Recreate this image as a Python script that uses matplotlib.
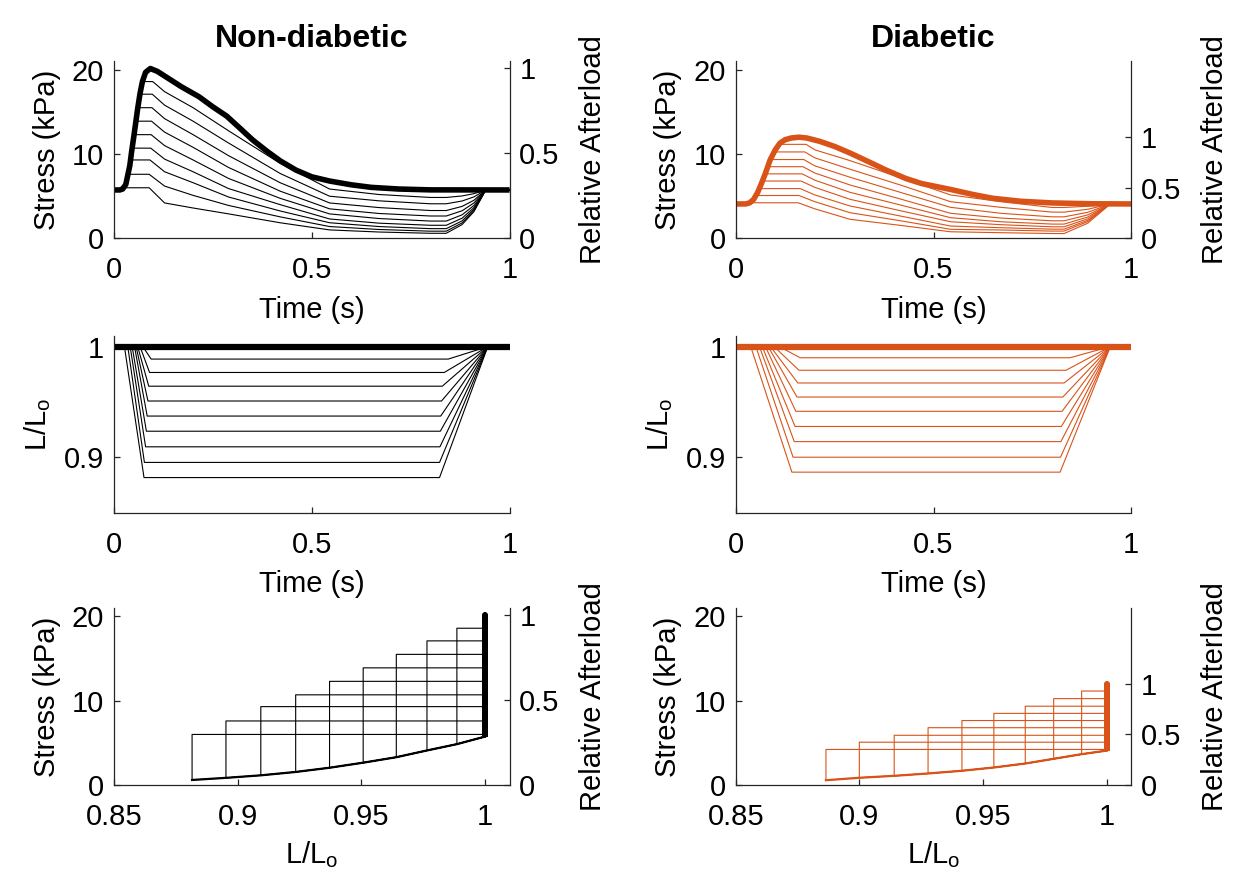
import numpy as np
import matplotlib.pyplot as plt

plt.rcParams['font.family'] = ['Liberation Sans', 'DejaVu Sans']
plt.rcParams['mathtext.fontset'] = 'custom'
plt.rcParams['mathtext.rm'] = 'Liberation Sans'
plt.rcParams['mathtext.it'] = 'Liberation Sans:italic'

ORANGE = '#D95319'
AX_COLOR = '#262626'
FS = 21

# isometric twitch (thick line), stress in kPa
nd_iso_t = [0, 0.015, 0.022, 0.03, 0.04, 0.045, 0.05, 0.055, 0.06, 0.066, 0.072, 0.08,
            0.092, 0.11, 0.13, 0.17, 0.215, 0.25, 0.285, 0.32, 0.35, 0.385, 0.42, 0.46,
            0.5, 0.545, 0.6, 0.65, 0.72, 0.8, 1.0]
nd_iso_stress = [5.74, 5.74, 5.85, 6.4, 8.6, 10.4, 12.0, 13.7, 15.4, 17.2, 18.6, 19.7,
                 20.15, 19.8, 19.2, 18.0, 16.8, 15.6, 14.5, 13.0, 11.7, 10.4, 9.2, 8.1,
                 7.3, 6.8, 6.35, 6.05, 5.85, 5.75, 5.74]
d_iso_t = [0, 0.025, 0.035, 0.045, 0.055, 0.065, 0.075, 0.087, 0.1, 0.112, 0.125, 0.14,
           0.16, 0.18, 0.213, 0.25, 0.29, 0.34, 0.38, 0.43, 0.47, 0.543, 0.6, 0.65,
           0.72, 0.8, 0.9, 1.0]
d_iso_stress = [4.08, 4.08, 4.2, 4.6, 5.4, 6.5, 7.7, 9.3, 10.5, 11.3, 11.7, 11.9,
                12.0, 11.9, 11.5, 10.9, 10.1, 9.0, 8.1, 7.1, 6.5, 5.8, 5.2, 4.75,
                4.4, 4.2, 4.1, 4.08]

# afterloaded contractions, highest afterload first
nd_level = [18.6, 17.1, 15.5, 13.9, 12.3, 10.7, 9.3, 7.6, 6.0]
nd_lmin = [0.9887, 0.9766, 0.9642, 0.9508, 0.9372, 0.9235, 0.9094, 0.8953, 0.8816]
nd_t_start = [0.073, 0.066, 0.060, 0.056, 0.052, 0.046, 0.041, 0.035, 0.0265]
nd_t_short_end = [0.094, 0.090, 0.088, 0.086, 0.084, 0.082, 0.080, 0.077, 0.076]
nd_t_plateau_end = [0.098, 0.097, 0.096, 0.095, 0.094, 0.093, 0.091, 0.089, 0.089]
nd_t_relen = [0.845, 0.835, 0.83, 0.828, 0.826, 0.825, 0.824, 0.823, 0.823]
nd_t_back = 0.945
nd_relax_t = [0.128, 0.2, 0.29, 0.42, 0.545, 0.67, 0.8, 0.84, 0.88, 0.91, 0.94]
nd_relax_stress = [
    [17.4, 15.5, 12.75, 8.9, 5.85, 5.2, 4.85, 4.85, 5.03, 5.3, 5.74],
    [15.8, 13.9, 11.3, 7.7, 5.0, 4.45, 4.1, 4.1, 4.43, 4.92, 5.74],
    [14.2, 12.3, 9.8, 6.6, 4.2, 3.65, 3.3, 3.3, 3.79, 4.52, 5.74],
    [12.6, 10.8, 8.4, 5.6, 3.5, 2.95, 2.65, 2.65, 3.27, 4.2, 5.74],
    [11.0, 9.3, 7.1, 4.75, 2.9, 2.35, 2.05, 2.05, 2.79, 3.9, 5.74],
    [9.4, 7.9, 5.9, 4.0, 2.3, 1.8, 1.55, 1.55, 2.39, 3.65, 5.74],
    [7.9, 6.6, 4.9, 3.25, 1.85, 1.4, 1.15, 1.15, 2.07, 3.45, 5.74],
    [6.2, 5.1, 3.9, 2.55, 1.4, 1.05, 0.85, 0.85, 1.83, 3.3, 5.74],
    [4.2, 3.6, 2.9, 1.85, 1.0, 0.75, 0.6, 0.6, 1.63, 3.17, 5.74],
]
nd_passive_l = [0.8816, 0.8953, 0.9094, 0.9235, 0.9372, 0.9508, 0.9642, 0.9766, 0.9887, 1.0]
nd_passive_stress = [0.6, 0.85, 1.15, 1.55, 2.05, 2.65, 3.3, 4.1, 4.85, 5.74]

d_level = [11.15, 10.25, 9.35, 8.5, 7.65, 6.8, 5.9, 5.08, 4.22]
d_lmin = [0.9899, 0.9786, 0.9671, 0.9544, 0.9415, 0.9278, 0.9141, 0.9, 0.8865]
d_t_start = [0.11, 0.097, 0.088, 0.082, 0.075, 0.067, 0.06, 0.051, 0.038]
d_t_short_end = [0.163, 0.16, 0.157, 0.155, 0.152, 0.15, 0.148, 0.145, 0.142]
d_t_plateau_end = [0.178, 0.175, 0.172, 0.17, 0.168, 0.165, 0.163, 0.16, 0.158]
d_t_relen = [0.845, 0.835, 0.83, 0.827, 0.825, 0.823, 0.822, 0.821, 0.82]
d_t_back = 0.947
d_relax_t = [0.2, 0.289, 0.416, 0.543, 0.67, 0.8, 0.83, 0.89, 0.947]
d_relax_stress = [
    [10.5, 9.22, 7.2, 5.15, 4.35, 3.66, 3.66, 3.81, 4.08],
    [9.55, 8.2, 6.33, 4.35, 3.68, 3.11, 3.11, 3.45, 4.08],
    [8.6, 7.25, 5.46, 3.68, 2.97, 2.55, 2.55, 3.09, 4.08],
    [7.75, 6.33, 4.67, 2.97, 2.41, 2.08, 2.08, 2.78, 4.08],
    [6.9, 5.46, 3.96, 2.45, 1.97, 1.69, 1.69, 2.53, 4.08],
    [6.05, 4.63, 3.28, 1.97, 1.62, 1.37, 1.37, 2.32, 4.08],
    [5.15, 3.84, 2.65, 1.46, 1.26, 1.09, 1.09, 2.14, 4.08],
    [4.35, 3.04, 2.09, 1.07, 0.99, 0.86, 0.86, 1.99, 4.08],
    [3.5, 2.26, 1.54, 0.78, 0.67, 0.57, 0.57, 1.8, 4.08],
]
d_passive_l = [0.8865, 0.9, 0.9141, 0.9278, 0.9415, 0.9544, 0.9671, 0.9786, 0.9899, 1.0]
d_passive_stress = [0.57, 0.86, 1.09, 1.37, 1.69, 2.08, 2.55, 3.11, 3.66, 4.08]


def style_axes(ax):
    for side in ['top', 'right']:
        ax.spines[side].set_visible(False)
    for side in ['left', 'bottom']:
        ax.spines[side].set_color(AX_COLOR)
        ax.spines[side].set_linewidth(0.9)
    ax.tick_params(direction='in', length=4, width=0.9, colors=AX_COLOR,
                   labelsize=FS, labelcolor='black')
    ax.tick_params(axis='y', pad=7)
    ax.tick_params(axis='x', pad=13)


def add_relative_axis(ax, iso_stress):
    ax2 = ax.twinx()
    for side in ['top', 'left', 'bottom']:
        ax2.spines[side].set_visible(False)
    ax2.spines['right'].set_color(AX_COLOR)
    ax2.spines['right'].set_linewidth(0.9)
    ax2.set_ylim(0, 21 / max(iso_stress))
    ax2.set_yticks([0, 0.5, 1])
    ax2.set_yticklabels(['0', '0.5', '1'])
    ax2.tick_params(direction='in', length=4, width=0.9, colors=AX_COLOR,
                    labelsize=FS, pad=7, labelcolor='black')
    ax2.set_ylabel('Relative Afterload', fontsize=FS, labelpad=14)


def stress_time(ax, color, iso_t, iso_s, level, t_start, t_plat, relax_t, relax_s):
    for i in range(len(level)):
        t = [t_start[i], t_plat[i]] + relax_t + [1.0]
        s = [level[i], level[i]] + relax_s[i] + [iso_s[-1]]
        ax.plot(t, s, color=color, lw=0.8)
    ax.plot(iso_t, iso_s, color=color, lw=4, solid_capstyle='butt')
    ax.set_xlim(0, 1)
    ax.set_ylim(0, 21)
    ax.set_xticks([0, 0.5, 1])
    ax.set_xticklabels(['0', '0.5', '1'])
    ax.set_yticks([0, 10, 20])
    ax.set_xlabel('Time (s)', fontsize=FS, labelpad=8)
    ax.set_ylabel('Stress (kPa)', fontsize=FS, labelpad=8)


def length_time(ax, color, lmin, t_start, t_end, t_relen, t_back):
    for i in range(len(lmin)):
        t = [0, t_start[i], t_end[i], t_relen[i], t_back, 1.0]
        L = [1, 1, lmin[i], lmin[i], 1, 1]
        ax.plot(t, L, color=color, lw=0.8)
    ax.plot([0, 1], [1, 1], color=color, lw=4.5, solid_capstyle='butt')
    ax.set_xlim(0, 1)
    ax.set_ylim(0.85, 1.01)
    ax.set_xticks([0, 0.5, 1])
    ax.set_xticklabels(['0', '0.5', '1'])
    ax.set_yticks([0.9, 1])
    ax.set_yticklabels(['0.9', '1'])
    ax.set_xlabel('Time (s)', fontsize=FS, labelpad=8)
    ax.set_ylabel('L/L$_{\\rm o}$', fontsize=FS, labelpad=8)


def stress_length(ax, color, iso_s, level, lmin, pas_l, pas_s):
    pas_l = np.array(pas_l)
    pas_s = np.array(pas_s)
    for i in range(len(level)):
        keep = pas_l >= lmin[i]
        L = [1, 1, lmin[i]] + list(pas_l[keep])
        s = [iso_s[-1], level[i], level[i]] + list(pas_s[keep])
        ax.plot(L, s, color=color, lw=0.8)
    ax.plot(pas_l, pas_s, color=color, lw=1.6)
    ax.plot(np.ones(len(iso_s)), iso_s, color=color, lw=4, solid_capstyle='butt')
    ax.set_xlim(0.85, 1.01)
    ax.set_ylim(0, 21)
    ax.set_xticks([0.85, 0.9, 0.95, 1])
    ax.set_xticklabels(['0.85', '0.9', '0.95', '1'])
    ax.set_yticks([0, 10, 20])
    ax.set_xlabel('L/L$_{\\rm o}$', fontsize=FS, labelpad=6)
    ax.set_ylabel('Stress (kPa)', fontsize=FS, labelpad=8)


fig = plt.figure(figsize=(12.48, 8.94), dpi=100)
col_x = [0.0913, 0.5895]
col_w = 0.317
row_y = [0.7334, 0.4267, 0.1219]
row_h = 0.198

groups = [
    ('Non-diabetic', 'black', nd_iso_t, nd_iso_stress, nd_level, nd_lmin, nd_t_start,
     nd_t_short_end, nd_t_plateau_end, nd_t_relen, nd_t_back, nd_relax_t,
     nd_relax_stress, nd_passive_l, nd_passive_stress),
    ('Diabetic', ORANGE, d_iso_t, d_iso_stress, d_level, d_lmin, d_t_start,
     d_t_short_end, d_t_plateau_end, d_t_relen, d_t_back, d_relax_t,
     d_relax_stress, d_passive_l, d_passive_stress),
]

for c, g in enumerate(groups):
    (title, color, iso_t, iso_s, level, lmin, t_start, t_end, t_plat,
     t_relen, t_back, relax_t, relax_s, pas_l, pas_s) = g

    ax_top = fig.add_axes([col_x[c], row_y[0], col_w, row_h])
    style_axes(ax_top)
    stress_time(ax_top, color, iso_t, iso_s, level, t_start, t_plat, relax_t, relax_s)
    add_relative_axis(ax_top, iso_s)
    ax_top.set_title(title, fontsize=23, fontweight='bold', pad=10)

    ax_mid = fig.add_axes([col_x[c], row_y[1], col_w, row_h])
    style_axes(ax_mid)
    length_time(ax_mid, color, lmin, t_start, t_end, t_relen, t_back)

    ax_bot = fig.add_axes([col_x[c], row_y[2], col_w, row_h])
    style_axes(ax_bot)
    stress_length(ax_bot, color, iso_s, level, lmin, pas_l, pas_s)
    add_relative_axis(ax_bot, iso_s)

fig.savefig('out.png', dpi=100)
